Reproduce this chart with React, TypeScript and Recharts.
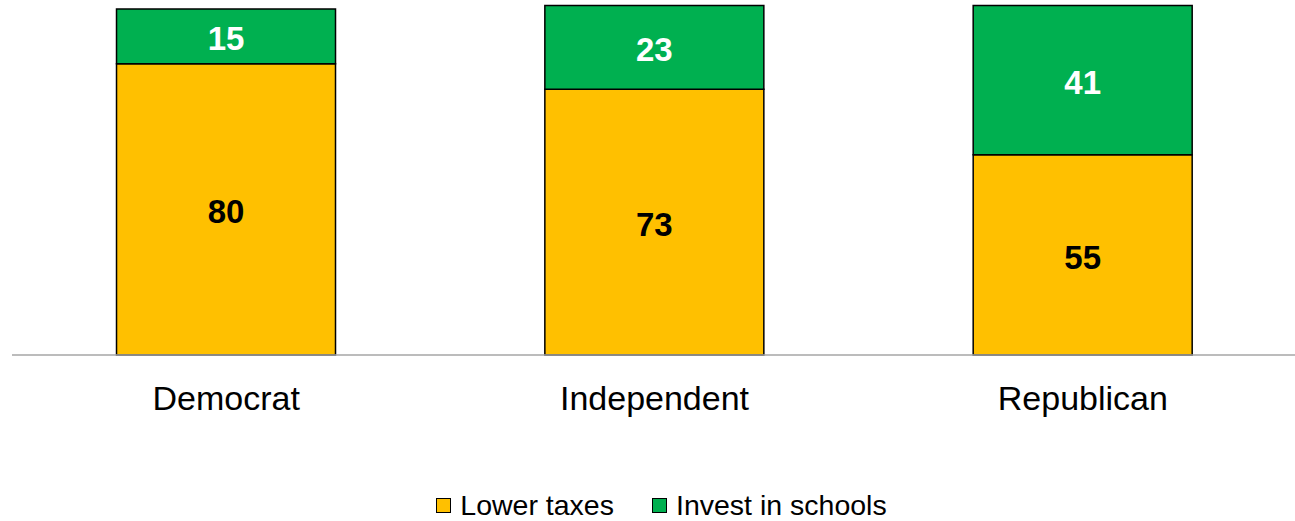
import { BarChart, Bar, XAxis, YAxis, LabelList } from "recharts";

const categories = ["Democrat", "Independent", "Republican"];
const lowerTaxes = [80, 73, 55];
const investSchools = [15, 23, 41];

const series = [
  { key: "lowerTaxes", name: "Lower taxes", color: "#FFC000", labelColor: "#000000" },
  { key: "investSchools", name: "Invest in schools", color: "#00B050", labelColor: "#FFFFFF" },
];

const data = categories.map((c, i) => ({
  name: c,
  lowerTaxes: lowerTaxes[i],
  investSchools: investSchools[i],
}));

const FONT = "'Liberation Sans', Arial, sans-serif";

const App = () => {
  return (
    <div style={{ position: "absolute", left: 0, top: 0, width: 1295, height: 521, overflow: "hidden", background: "#fff", fontFamily: FONT }}>
      <BarChart
        width={1297}
        height={521}
        data={data}
        margin={{ top: 0, right: 0, left: 12, bottom: 86 }}
        barCategoryGap="24.4%"
      >
        <YAxis hide domain={[0, 97.5]} />
        <XAxis
          dataKey="name"
          height={80}
          axisLine={{ stroke: "#A6A6A6", strokeWidth: 1.5 }}
          tickLine={false}
          tickSize={6}
          tickMargin={25}
          tick={{ fontSize: 34, fill: "#000", fontFamily: FONT }}
        />
        {series.map(s => (
          <Bar key={s.key} dataKey={s.key} stackId="a" fill={s.color} stroke="#000" strokeWidth={1.5} isAnimationActive={false}>
            <LabelList
              dataKey={s.key}
              position="center"
              fill={s.labelColor}
              dy={2}
              style={{ fontSize: 33, fontWeight: 700, fontFamily: FONT }}
            />
          </Bar>
        ))}
      </BarChart>
      <div
        style={{
          position: "absolute",
          top: 490,
          left: 0,
          width: 1295,
          paddingLeft: 28,
          boxSizing: "border-box",
          display: "flex",
          justifyContent: "center",
          alignItems: "center",
          gap: 38,
          fontSize: 28.5,
          lineHeight: "30px",
          color: "#000",
        }}
      >
        {series.map(s => (
          <div key={s.key} style={{ display: "flex", alignItems: "center" }}>
            <span style={{ display: "inline-block", width: 13, height: 13, background: s.color, border: "1px solid #000", marginRight: 9 }} />
            <span>{s.name}</span>
          </div>
        ))}
      </div>
    </div>
  );
};

export default App;
